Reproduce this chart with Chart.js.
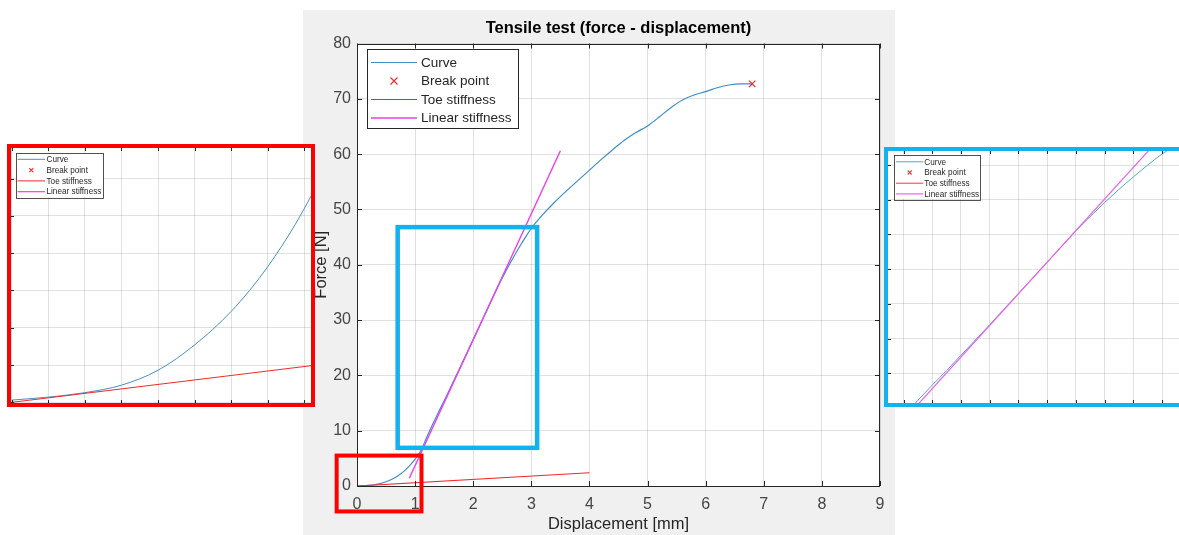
<!DOCTYPE html>
<html><head><meta charset="utf-8">
<script src="https://cdn.jsdelivr.net/npm/chart.js@4.4.1/dist/chart.umd.min.js"></script>
<style>
html,body{margin:0;padding:0;background:#fff;overflow:hidden;width:1179px;height:535px;}
#fig{position:absolute;left:303px;top:10px;width:592px;height:525px;background:#f0f0f0;z-index:1;}
#leftBox{position:absolute;left:7px;top:144px;width:308px;height:263px;border:4px solid #ff0000;box-sizing:border-box;background:#fff;z-index:2;}
#rightBox{position:absolute;left:884px;top:147px;width:300px;height:260px;border:4px solid #12b2ee;border-right:none;box-sizing:border-box;background:#fff;z-index:2;}
canvas{display:block;}
</style></head><body>
<div id="fig"><canvas id="main" width="592" height="525"></canvas></div>
<div id="leftBox"><canvas id="zoomToe" width="300" height="255"></canvas></div>
<div id="rightBox"><canvas id="zoomLin" width="296" height="252"></canvas></div>
<script>
const FONT = '"Liberation Sans", Arial, Helvetica, sans-serif';

// ---- data ----
const curveX = [0,0.1,0.2,0.3,0.4,0.5,0.6,0.7,0.8,0.9,1.0,1.1,1.2,1.3,1.4,1.5,1.6,1.8,2.0,2.2,2.4,2.5,2.6,2.7,2.8,2.9,3.0,3.1,3.2,3.4,3.6,3.8,4.0,4.2,4.4,4.6,4.8,5.0,5.2,5.4,5.6,5.8,6.0,6.2,6.4,6.6,6.8];
const curveY = [0.03,0.07,0.13,0.23,0.43,0.77,1.22,1.82,2.6,3.6,4.85,6.4,8.8,11.1,13.3,15.4,17.6,22.0,26.5,31.0,35.5,37.6,39.6,41.5,43.3,45.0,46.6,47.9,49.1,51.3,53.3,55.2,57.1,59.0,60.8,62.5,63.9,65.1,66.7,68.4,69.8,70.7,71.3,72.0,72.5,72.7,72.7];
const breakX = [6.8];
const breakY = [72.7];
const toeX = [0, 4];
const toeY = [0, 2.4];
const linX = [0.9, 3.5];
const linY = [1.4, 60.6];
const seriesNames = ['Curve', 'Break point', 'Toe stiffness', 'Linear stiffness'];
const xTickLabels = ['0','1','2','3','4','5','6','7','8','9'];
const yTickLabels = ['0','10','20','30','40','50','60','70','80'];
const titleText = 'Tensile test (force - displacement)';
const xTitle = 'Displacement [mm]';
const yTitle = 'Force [N]';
// zoom windows (data units)
const toeZoomX = [-0.002, 0.818], toeZoomY = [-0.009, 3.409];
const linZoomX = [1.092, 3.153], linZoomY = [10.72, 47.03];
const redMarkX = [-0.35, 1.11], redMarkY = [-4.6, 5.5];
const blueMarkX = [0.70, 3.10], blueMarkY = [6.9, 46.8];

const pts = (xs, ys) => xs.map((x, i) => ({x: x, y: ys[i]}));

function makeDatasets(s) {
  return [
    {label: seriesNames[0], data: pts(curveX, curveY), showLine: true, borderColor: s.curve, borderWidth: s.lw, pointRadius: 0, cubicInterpolationMode: 'monotone', order: 3},
    {label: seriesNames[1], data: pts(breakX, breakY), showLine: false, borderColor: s.red, backgroundColor: s.red, borderWidth: 1.2, pointStyle: 'crossRot', pointRadius: 4.5, order: 0},
    {label: seriesNames[2], data: pts(toeX, toeY), showLine: true, borderColor: s.red, borderWidth: s.lw, pointRadius: 0, order: 2},
    {label: seriesNames[3], data: pts(linX, linY), showLine: true, borderColor: s.mag, borderWidth: s.lw + 0.2, pointRadius: 0, order: 1}
  ];
}

function drawLegend(chart, o) {
  const {ctx, chartArea: a} = chart;
  const x0 = a.left + o.left, y0 = a.top + o.top;
  ctx.save();
  ctx.fillStyle = '#fff';
  ctx.fillRect(x0, y0, o.width, o.height);
  ctx.strokeStyle = '#262626'; ctx.lineWidth = o.borderWidth;
  ctx.strokeRect(Math.round(x0) + 0.5, Math.round(y0) + 0.5, Math.round(o.width), Math.round(o.height));
  ctx.font = o.fontSize + 'px ' + FONT; ctx.textBaseline = 'middle'; ctx.textAlign = 'left';
  chart.data.datasets.forEach((ds, i) => {
    const y = y0 + o.firstRow + i * o.rowGap;
    ctx.strokeStyle = ds.borderColor;
    ctx.lineWidth = ds.showLine ? ds.borderWidth : 1.1;
    ctx.beginPath();
    if (ds.showLine) {
      ctx.moveTo(x0 + o.lineStart, y); ctx.lineTo(x0 + o.lineEnd, y);
    } else {
      const cx = x0 + (o.lineStart + o.lineEnd) / 2, r = o.marker;
      ctx.moveTo(cx - r, y - r); ctx.lineTo(cx + r, y + r);
      ctx.moveTo(cx + r, y - r); ctx.lineTo(cx - r, y + r);
    }
    ctx.stroke();
    ctx.fillStyle = '#262626';
    ctx.fillText(ds.label, x0 + o.textX, y + 0.5);
  });
  ctx.restore();
}

const decor = {
  id: 'decor',
  beforeDraw(chart) {
    const {ctx, chartArea: a} = chart;
    ctx.save(); ctx.fillStyle = '#fff';
    ctx.fillRect(a.left, a.top, a.right - a.left, a.bottom - a.top);
    ctx.restore();
  },
  afterDraw(chart, args, o) {
    const {ctx, chartArea: a, scales: {x, y}} = chart;
    ctx.save();
    ctx.strokeStyle = '#262626'; ctx.lineWidth = 1;
    if (o.frame) {
      ctx.strokeRect(Math.round(a.left) + 0.5, Math.round(a.top) + 0.5, Math.round(a.right - a.left) - 1, Math.round(a.bottom - a.top) - 1);
    }
    const L = o.tickLen;
    ctx.beginPath();
    x.ticks.forEach(t => {
      const px = Math.round(x.getPixelForValue(t.value)) + 0.5;
      ctx.moveTo(px, a.bottom); ctx.lineTo(px, a.bottom - L);
      ctx.moveTo(px, a.top); ctx.lineTo(px, a.top + L);
    });
    y.ticks.forEach(t => {
      const py = Math.round(y.getPixelForValue(t.value)) + 0.5;
      ctx.moveTo(a.left, py); ctx.lineTo(a.left + L, py);
      if (o.rightTicks) { ctx.moveTo(a.right, py); ctx.lineTo(a.right - L, py); }
    });
    ctx.stroke();
    ctx.restore();
    drawLegend(chart, o.legend);
    (o.marks || []).forEach(m => {
      const x1 = x.getPixelForValue(m.xr[0]), x2 = x.getPixelForValue(m.xr[1]);
      const y1 = y.getPixelForValue(m.yr[1]), y2 = y.getPixelForValue(m.yr[0]);
      ctx.save(); ctx.strokeStyle = m.color; ctx.lineWidth = m.width;
      ctx.strokeRect(x1, y1, x2 - x1, y2 - y1);
      ctx.restore();
    });
  }
};

const gridColor = 'rgba(38,38,38,0.14)';
const tickFont = {family: FONT, size: 16};

// ---- main chart ----
new Chart(document.getElementById('main'), {
  type: 'scatter',
  data: {datasets: makeDatasets({curve: '#3d8ec9', red: '#ee2a2a', mag: '#ee3cee', lw: 1.2})},
  plugins: [decor],
  options: {
    responsive: false, animation: false, devicePixelRatio: 1, events: [],
    layout: {autoPadding: false, padding: {left: 0, top: 0, right: 15, bottom: 0}},
    plugins: {
      legend: {display: false}, tooltip: {enabled: false},
      title: {display: true, text: titleText, fullSize: false, color: '#000', font: {family: FONT, size: 16.5, weight: 'bold'}, padding: {top: 8.4, bottom: 5.3}},
      decor: {
        frame: true, tickLen: 5, rightTicks: true,
        legend: {left: 10, top: 5.5, width: 151, height: 79, borderWidth: 1, firstRow: 13.5, rowGap: 18.5, lineStart: 4, lineEnd: 50, textX: 54, fontSize: 13.5, marker: 3.5},
        marks: [
          {xr: redMarkX, yr: redMarkY, color: '#ff0000', width: 4},
          {xr: blueMarkX, yr: blueMarkY, color: '#12b2ee', width: 4.5}
        ]
      }
    },
    scales: {
      x: {
        type: 'linear', min: +xTickLabels[0], max: +xTickLabels[xTickLabels.length - 1],
        ticks: {stepSize: 1, font: tickFont, color: '#454545', padding: 9, maxRotation: 0, callback: (v, i) => xTickLabels[i]},
        grid: {color: gridColor, drawTicks: false}, border: {display: false},
        title: {display: true, text: xTitle, color: '#262626', font: {family: FONT, size: 16.5}, padding: {top: 0, bottom: 0.8}},
        afterFit(s) { s.height = 49; }
      },
      y: {
        type: 'linear', min: +yTickLabels[0], max: +yTickLabels[yTickLabels.length - 1],
        ticks: {stepSize: 10, font: tickFont, color: '#454545', padding: 6, callback: (v, i) => yTickLabels[i]},
        grid: {color: gridColor, drawTicks: false}, border: {display: false},
        title: {display: true, text: yTitle, color: '#262626', font: {family: FONT, size: 16.5}, padding: {top: 8.1, bottom: 0}},
        afterFit(s) { s.width = 54; }
      }
    }
  }
});

// ---- zoom insets ----
function inset(id, xr, yr, xStep, yStep, style, legend) {
  new Chart(document.getElementById(id), {
    type: 'scatter',
    data: {datasets: makeDatasets(style)},
    plugins: [decor],
    options: {
      responsive: false, animation: false, devicePixelRatio: 1, events: [],
      layout: {autoPadding: false, padding: 0},
      plugins: {legend: {display: false}, tooltip: {enabled: false}, title: {display: false},
        decor: {frame: false, tickLen: 3, rightTicks: false, legend: legend, marks: []}},
      scales: {
        x: {type: 'linear', min: xr[0], max: xr[1], ticks: {display: false, stepSize: xStep, includeBounds: false},
            grid: {color: gridColor, drawTicks: false}, border: {display: false}, afterFit(s) { s.height = 0; }},
        y: {type: 'linear', min: yr[0], max: yr[1], ticks: {display: false, stepSize: yStep, includeBounds: false},
            grid: {color: gridColor, drawTicks: false}, border: {display: false}, afterFit(s) { s.width = 0; }}
      }
    }
  });
}

inset('zoomToe', toeZoomX, toeZoomY, 0.1, 0.5,
  {curve: '#4a8fc4', red: '#ee2a2a', mag: '#ee3cee', lw: 1},
  {left: 5, top: 4.7, width: 87, height: 44.6, borderWidth: 0.8, firstRow: 6.6, rowGap: 10.8, lineStart: 1.6, lineEnd: 29, textX: 30.5, fontSize: 8.2, marker: 2});

inset('zoomLin', linZoomX, linZoomY, 0.2, 5,
  {curve: '#58a2cc', red: '#ee3a3a', mag: '#ee60ee', lw: 1},
  {left: 6, top: 3.5, width: 86, height: 44.5, borderWidth: 0.8, firstRow: 7.3, rowGap: 10.7, lineStart: 2, lineEnd: 29.3, textX: 30.3, fontSize: 8.2, marker: 2});
</script>
</body></html>
